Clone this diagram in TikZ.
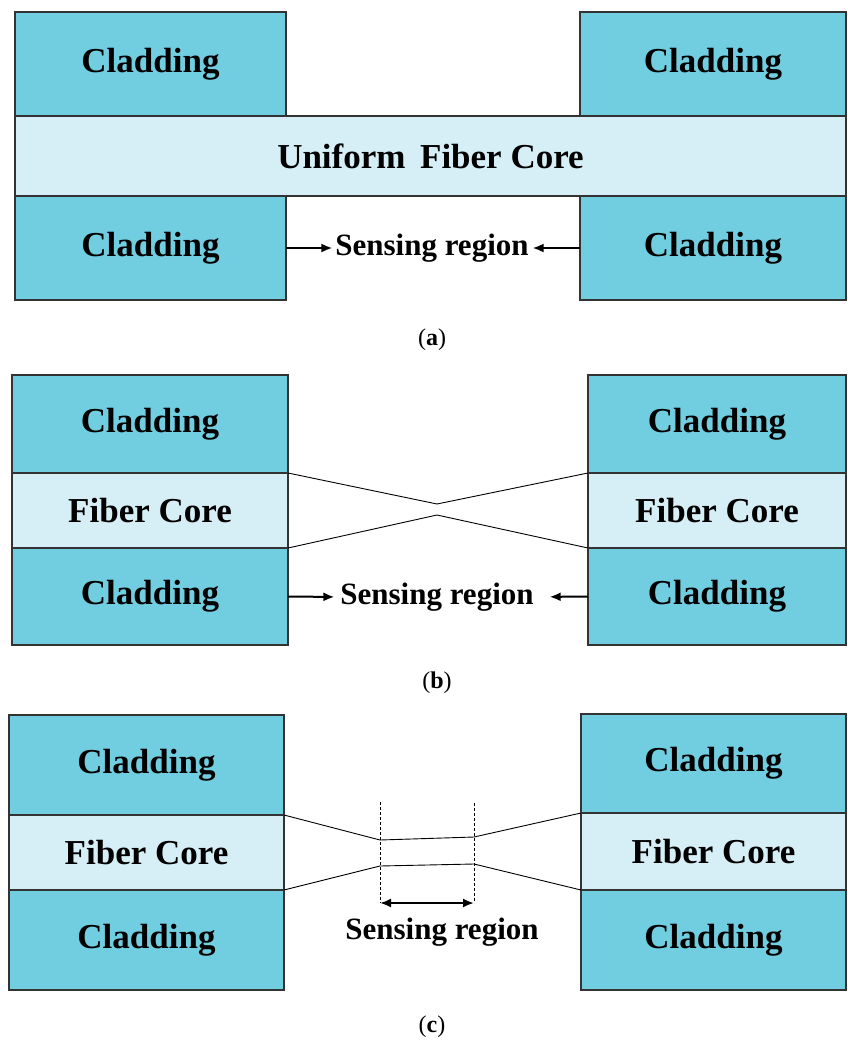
\documentclass[tikz,border=0pt]{standalone}
\usepackage{fontspec}
\setmainfont{Liberation Serif}
\usetikzlibrary{arrows.meta}
\definecolor{cladcol}{RGB}{113,205,224}
\definecolor{corecol}{RGB}{214,238,245}

\begin{document}
\begin{tikzpicture}[
    x=1pt, y=-1pt,
    every path/.style={>={Latex[length=11pt,width=9pt]}},
    inner sep=0pt,
    outer sep=0pt,
    font=\fontsize{35}{40}\selectfont\bfseries,
    clad/.style={draw=black!80, fill=cladcol, line width=1.2pt},
    core/.style={draw=black!80, fill=corecol, line width=1.2pt},
    sense/.style={font=\fontsize{31}{36}\selectfont\bfseries},
    subcap/.style={font=\fontsize{24}{28}\selectfont},
    fib/.style={line width=0.9pt},
    arr/.style={line width=2pt}
    ]

    \useasboundingbox (0,0) rectangle (848,1042);

    % (a) uniform core
    \node[clad, minimum width=271, minimum height=104] (aTL) at (150.5,64)  {Cladding};
    \node[clad, minimum width=271, minimum height=104] (aBL) at (150.5,248) {Cladding};
    \node[clad, minimum width=266, minimum height=104] (aTR) at (713,64)    {Cladding};
    \node[clad, minimum width=266, minimum height=104] (aBR) at (713,248)   {Cladding};
    \node[core, minimum width=831, minimum height=80]  (aCore) at (430.5,156) {Uniform\, Fiber Core};

    \node[sense] (aSense) at (432,248) {Sensing region};
    \draw[arr,->,shorten >=3pt] (aBL.east) -- (aSense.west);
    \draw[arr,->,shorten >=4pt] (aBR.west) -- (aSense.east);

    \node[subcap] (aCap) at (432,340) {(\textbf{a})};

    % (b) tapered core
    \node[clad, minimum width=276, minimum height=98] (bTL) at (150,424)   {Cladding};
    \node[core, minimum width=276, minimum height=75] (bLcore) at (150,510.5) {Fiber Core};
    \node[clad, minimum width=276, minimum height=97] (bBL) at (150,596.5) {Cladding};

    \node[clad, minimum width=258, minimum height=98] (bTR) at (717,424)   {Cladding};
    \node[core, minimum width=258, minimum height=75] (bRcore) at (717,510.5) {Fiber Core};
    \node[clad, minimum width=258, minimum height=97] (bBR) at (717,596.5) {Cladding};

    \coordinate (bx1) at (437,504);
    \coordinate (bx2) at (437,515);

    % edges
    \draw[fib] (bLcore.north east) -- (bx1) -- (bRcore.north west);
    \draw[fib] (bLcore.south east) -- (bx2) -- (bRcore.south west);

    \node[sense] (bSense) at (437,597) {Sensing region};
    \draw[arr,->,shorten >=6pt]  (bBL.east) -- (bSense.west);
    \draw[arr,->,shorten >=16pt] (bBR.west) -- (bSense.east);

    \node[subcap] (bCap) at (437,683) {(\textbf{b})};

    % (c) tapered core with waist
    \node[clad, minimum width=275, minimum height=100] (cTL) at (146.5,765)   {Cladding};
    \node[core, minimum width=275, minimum height=75]  (cLcore) at (146.5,852.5) {Fiber Core};
    \node[clad, minimum width=275, minimum height=100] (cBL) at (146.5,940)   {Cladding};

    \node[clad, minimum width=265, minimum height=99] (cTR) at (713.5,763.5)   {Cladding};
    \node[core, minimum width=265, minimum height=77] (cRcore) at (713.5,851.5) {Fiber Core};
    \node[clad, minimum width=265, minimum height=100] (cBR) at (713.5,940)    {Cladding};

    \coordinate (c1) at (380,840);
    \coordinate (c2) at (474,837);
    \coordinate (c3) at (380,866);
    \coordinate (c4) at (474,864);

    % edges
    \draw[fib] (cLcore.north east) -- (c1) -- (c2) -- (cRcore.north west);
    \draw[fib] (cLcore.south east) -- (c3) -- (c4) -- (cRcore.south west);

    \coordinate (d1) at (380,802);
    \coordinate (d2) at (380,903);
    \coordinate (d3) at (474,803);
    \coordinate (d4) at (474,903);
    \draw[line width=0.8pt, dash pattern=on 3pt off 2pt] (d1) -- (d2);
    \draw[line width=0.8pt, dash pattern=on 3pt off 2pt] (d3) -- (d4);
    \draw[arr,<->] (d2) -- (d4);

    \node[sense] (cSense) at (442,932) {Sensing region};

    \node[subcap] (cCap) at (432,1027) {(\textbf{c})};

\end{tikzpicture}
\end{document}
